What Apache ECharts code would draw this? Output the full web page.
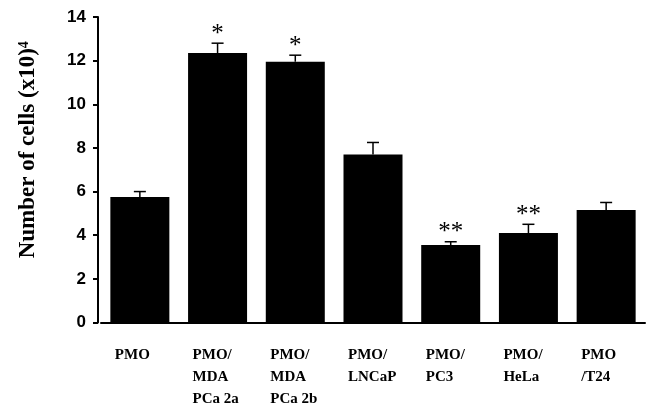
<!DOCTYPE html>
<html><head><meta charset="utf-8">
<script src="https://cdn.jsdelivr.net/npm/echarts@6/dist/echarts.min.js"></script>
<style>html,body{margin:0;padding:0;background:#fff}#c{width:651px;height:407px}</style>
</head><body><div id="c"></div>
<script>
const categories = ['PMO', 'PMO/\nMDA\nPCa 2a', 'PMO/\nMDA\nPCa 2b', 'PMO/\nLNCaP', 'PMO/\nPC3', 'PMO/\nHeLa', 'PMO\n/T24'];
const means = [5.75, 12.35, 11.95, 7.7, 3.55, 4.1, 5.15];
const errors = [0.25, 0.45, 0.3, 0.55, 0.15, 0.4, 0.35];
const significance = ['', '*', '*', '', '**', '**', ''];
const yMin = 0, yMax = 14, yInterval = 2;

const chart = echarts.init(document.getElementById('c'), null, {renderer: 'canvas'});
const serif = '"Liberation Serif", "Times New Roman", serif';
const sans = '"Liberation Sans", Arial, sans-serif';

const option = {
  animation: false,
  backgroundColor: '#fff',
  grid: {left: 101, right: 6, top: 17, bottom: 83, containLabel: false},
  xAxis: {
    type: 'category',
    data: categories,
    axisLine: {show: true, lineStyle: {color: '#000', width: 2}},
    axisTick: {show: false},
    axisLabel: {
      margin: 22,
      interval: 0,
      formatter: v => v.split('\n').map(s => '{a|' + s + '}').join('\n'),
      rich: {
        a: {width: 50, align: 'left', fontFamily: serif, fontWeight: 'bold', fontSize: 15, lineHeight: 22, color: '#000'}
      }
    }
  },
  yAxis: {
    type: 'value',
    min: yMin, max: yMax, interval: yInterval,
    offset: 3,
    name: 'Number of cells (x10){sup|4}',
    nameLocation: 'middle',
    nameGap: 58,
    nameTextStyle: {
      fontFamily: serif, fontWeight: 'bold', fontSize: 23, color: '#000',
      padding: [0, 0, 0, 40],
      rich: {sup: {fontFamily: serif, fontWeight: 'bold', fontSize: 14, color: '#000', verticalAlign: 'top'}}
    },
    axisLine: {show: true, lineStyle: {color: '#000', width: 2}},
    axisTick: {show: true, length: 5, lineStyle: {color: '#000', width: 2}},
    axisLabel: {margin: 12, fontFamily: sans, fontWeight: 'bold', fontSize: 17, color: '#000'},
    splitLine: {show: false}
  },
  series: [
    {
      type: 'bar',
      data: means,
      barWidth: 59,
      itemStyle: {color: '#000'}
    },
    {
      type: 'custom',
      data: means.map((m, i) => [i, m, m + errors[i]]),
      z: 5,
      renderItem: function (params, api) {
        const i = api.value(0);
        const base = api.coord([i, api.value(1)]);
        const top = api.coord([i, api.value(2)]);
        const cap = 6;
        const children = [
          {type: 'line', shape: {x1: top[0], y1: base[1], x2: top[0], y2: top[1]}, style: {stroke: '#000', lineWidth: 1.5}},
          {type: 'line', shape: {x1: top[0] - cap, y1: top[1], x2: top[0] + cap, y2: top[1]}, style: {stroke: '#000', lineWidth: 1.5}}
        ];
        const sig = significance[params.dataIndex];
        if (sig) {
          children.push({type: 'text', style: {text: sig, x: top[0], y: top[1] - 9, align: 'center', verticalAlign: 'middle', font: '25px ' + serif, fill: '#000'}});
        }
        return {type: 'group', children: children};
      }
    }
  ]
};
chart.setOption(option);
</script>
</body></html>
